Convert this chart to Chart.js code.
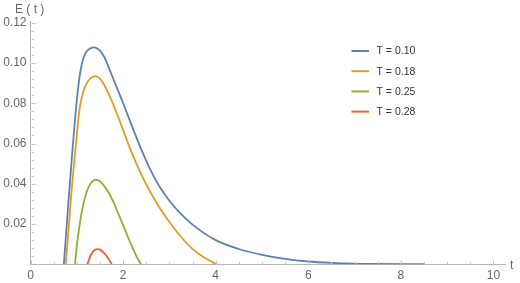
<!DOCTYPE html>
<html>
<head>
<meta charset="utf-8">
<script src="https://cdn.jsdelivr.net/npm/chart.js@4/dist/chart.umd.min.js"></script>
<style>
  html, body { margin: 0; padding: 0; background: #fff; }
  #wrap { width: 520px; height: 283px; }
</style>
</head>
<body>
<div id="wrap"><canvas id="chart" width="520" height="283"></canvas></div>
<script>
// values
const SERIES_LABELS = ["T = 0.10", "T = 0.18", "T = 0.25", "T = 0.28"];
const SERIES_COLORS = ["#5e81b5", "#e19c24", "#8fb032", "#eb6235"];

const tBlue = [0.72, 0.8, 0.9, 1.0, 1.05, 1.1, 1.15, 1.2, 1.25, 1.3, 1.35, 1.4, 1.5, 1.6, 1.7, 1.8, 1.9, 2.0, 2.1, 2.2, 2.3, 2.4, 2.5, 2.6, 2.8, 3.0, 3.25, 3.5, 4.0, 4.5, 5.0, 5.5, 6.0, 6.5, 7.0, 7.5, 8.0, 8.5];
const eBlue = [0, 0.025, 0.055, 0.0815, 0.0915, 0.0985, 0.1028, 0.1053, 0.1066, 0.1073, 0.1077, 0.1076, 0.1061, 0.1027, 0.0972, 0.0915, 0.0858, 0.0801, 0.0741, 0.0681, 0.0623, 0.0567, 0.0514, 0.0465, 0.0381, 0.0316, 0.025, 0.0197, 0.012, 0.0076, 0.0047, 0.0027, 0.0014, 0.0007, 0.0003, 0.00015, 0.00006, 0.00002];

const tOrange = [0.76, 0.8, 0.9, 1.0, 1.05, 1.1, 1.15, 1.2, 1.3, 1.4, 1.5, 1.6, 1.7, 1.8, 1.9, 2.0, 2.1, 2.2, 2.4, 2.6, 2.8, 3.0, 3.25, 3.5, 3.75, 4.02];
const eOrange = [0, 0.011, 0.04, 0.0645, 0.0755, 0.0822, 0.0865, 0.0894, 0.0925, 0.0935, 0.0922, 0.0888, 0.0841, 0.0787, 0.0728, 0.0668, 0.0606, 0.0547, 0.0443, 0.0354, 0.0277, 0.021, 0.0137, 0.0077, 0.0034, 0];

const tGreen = [0.96, 1.0, 1.1, 1.2, 1.3, 1.4, 1.5, 1.6, 1.7, 1.8, 1.9, 2.0, 2.1, 2.2, 2.3, 2.387];
const eGreen = [0, 0.009, 0.025, 0.035, 0.0402, 0.0419, 0.0413, 0.0386, 0.0352, 0.0305, 0.025, 0.0195, 0.0138, 0.0085, 0.0035, 0];

const tRed = [1.227, 1.3, 1.4, 1.45, 1.5, 1.6, 1.7, 1.754];
const eRed = [0, 0.0045, 0.0073, 0.0075, 0.0073, 0.0053, 0.0022, 0];

const X_TICKS = [0, 2, 4, 6, 8, 10];
const Y_TICKS = [0.02, 0.04, 0.06, 0.08, 0.10, 0.12];

const toPoints = (ts, es) => ts.map((t, i) => ({ x: t, y: es[i] }));
const seriesData = [
  toPoints(tBlue, eBlue),
  toPoints(tOrange, eOrange),
  toPoints(tGreen, eGreen),
  toPoints(tRed, eRed),
];

const FONT = "'Liberation Sans', Arial, sans-serif";
const AXIS_COLOR = "#b5b5b5";
const LABEL_COLOR = "#666";

// Mathematica-style inward ticks, axis names and legend
const decorPlugin = {
  id: "decor",
  afterDraw(chart) {
    const { ctx, scales } = chart;
    const xs = scales.x, ys = scales.y;
    const y0 = Math.round(ys.getPixelForValue(0)) + 0.5;
    const x0 = Math.round(xs.getPixelForValue(0)) + 0.5;
    ctx.save();
    ctx.strokeStyle = "#c4c4c4";
    ctx.lineWidth = 1;
    ctx.beginPath();
    for (let i = 0; i <= 20; i++) {
      const v = i * 0.5;
      const len = i % 4 === 0 ? 4 : 2.5;
      const px = Math.round(xs.getPixelForValue(v)) + 0.5;
      ctx.moveTo(px, y0);
      ctx.lineTo(px, y0 - len);
    }
    for (let i = 1; i <= 30; i++) {
      const v = i * 0.004;
      const len = i % 5 === 0 ? 4 : 2.5;
      const py = Math.round(ys.getPixelForValue(v)) + 0.5;
      ctx.moveTo(x0, py);
      ctx.lineTo(x0 + len, py);
    }
    ctx.stroke();

    ctx.fillStyle = LABEL_COLOR;
    ctx.font = "12px " + FONT;
    ctx.textBaseline = "middle";
    ctx.textAlign = "left";
    ctx.fillText("E ( t )", 15, 10);
    ctx.fillText("t", 510, 266);

    // legend
    ctx.font = "10.5px " + FONT;
    chart.data.datasets.forEach((ds, i) => {
      const ly = 51 + i * 20.2;
      ctx.strokeStyle = ds.borderColor;
      ctx.lineWidth = 2;
      ctx.beginPath();
      ctx.moveTo(351.5, ly);
      ctx.lineTo(369, ly);
      ctx.stroke();
      ctx.fillStyle = "#333";
      ctx.fillText(ds.label, 376.5, ly + 0.5);
    });
    ctx.restore();
  },
};

new Chart(document.getElementById("chart").getContext("2d"), {
  type: "line",
  data: {
    datasets: seriesData.map((pts, i) => ({
      label: SERIES_LABELS[i],
      data: pts,
      borderColor: SERIES_COLORS[i],
      backgroundColor: SERIES_COLORS[i],
      borderWidth: 1.8,
      pointRadius: 0,
      fill: false,
      cubicInterpolationMode: "monotone",
    })),
  },
  options: {
    responsive: false,
    devicePixelRatio: 1,
    animation: false,
    layout: { padding: { top: 21.7, right: 15, bottom: 0, left: 0 } },
    scales: {
      x: {
        type: "linear",
        min: 0,
        max: 10.25,
        afterFit: (s) => { s.height = 18.7; },
        afterBuildTicks: (s) => { s.ticks = X_TICKS.map((v) => ({ value: v })); },
        grid: { drawOnChartArea: false, drawTicks: false },
        border: { color: AXIS_COLOR, width: 1 },
        ticks: {
          padding: 4,
          maxRotation: 0,
          color: LABEL_COLOR,
          font: { size: 12, family: FONT },
          callback: (v) => String(v),
        },
      },
      y: {
        type: "linear",
        min: 0,
        max: 0.1205,
        afterFit: (s) => { s.width = 30.5; },
        afterBuildTicks: (s) => { s.ticks = Y_TICKS.map((v) => ({ value: v })); },
        grid: { drawOnChartArea: false, drawTicks: false },
        border: { color: AXIS_COLOR, width: 1 },
        ticks: {
          padding: 4,
          color: LABEL_COLOR,
          font: { size: 12, family: FONT },
          callback: (v) => Number(v).toFixed(2),
        },
      },
    },
    plugins: {
      legend: { display: false },
      tooltip: { enabled: false },
    },
  },
  plugins: [decorPlugin],
});
</script>
</body>
</html>
